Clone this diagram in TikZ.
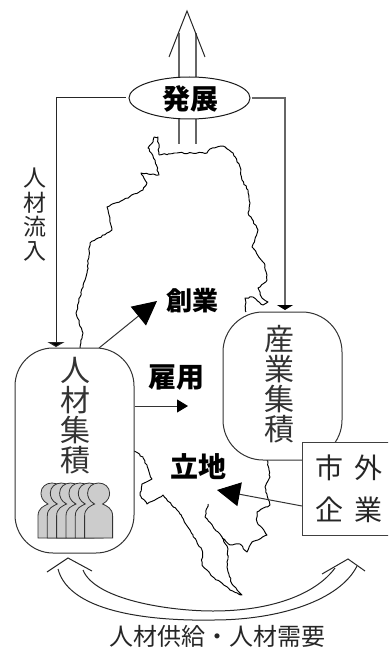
\documentclass[tikz,border=0pt]{standalone}
\usepackage{fontspec}
\setmainfont{Noto Sans CJK JP}
\usetikzlibrary{arrows.meta,decorations.pathmorphing,shapes.geometric}
\newcommand{\fs}[2]{\fontsize{#1}{#2}\selectfont}
\tikzset{
  lbl/.style={inner sep=0pt,align=center,text=black!85},
  bold/.style={inner sep=0pt,font=\bfseries\fs{28}{28},text=black},
  stack/.style={inner sep=0pt,align=center,font=\fs{30}{30},text=black!80},
  mapline/.style={draw=black,line width=.95pt,line join=round,decorate,decoration={random steps,segment length=2.5pt,amplitude=.7pt}},
  capsule/.style={draw=black!80,fill=white,line width=1pt,rounded corners=38pt,minimum width=119pt,inner sep=0pt},
  grayline/.style={draw=black!60,line width=1.1pt},
  darkline/.style={draw=black!85,line width=1pt},
  pointer/.style={draw=black!80,line width=1pt},
  person/.style={draw=black!80,fill=black!20,line width=.8pt},
}
\begin{document}
\begin{tikzpicture}[x=1pt,y=-1pt]
\useasboundingbox (0,0) rectangle (388,647);
\clip (0,0) rectangle (388,647);
% map
\path[mapline] (159,155) -- (177,153) -- (192,153) -- (207,153) -- (210,149) -- (223,146) -- (233,153) -- (240,167) -- (242,180) -- (248,190) -- (250,203) -- (248,213) -- (258,230) -- (252,247) -- (265,265) -- (267,280) -- (258,288) -- (262,298) -- (268,302) -- (263,305) -- (253,297) -- (245,298) -- (246,312);
\path[mapline] (267,460) -- (270,477) -- (265,487) -- (270,505) -- (257,512) -- (257,522) -- (267,535) -- (252,542) -- (247,552) -- (240,544) -- (230,545) -- (222,537) -- (228,549) -- (227,567) -- (232,584) -- (242,595) -- (230,590) -- (213,577) -- (202,565) -- (202,550) -- (190,530) -- (180,514) -- (163,495) -- (147,504) -- (140,495) -- (142,484) -- (152,479) -- (143,457) -- (134,451);
\path[mapline] (208,504) -- (205,517) -- (222,537);
\path[mapline] (80,348) -- (83,333) -- (76,313) -- (80,297) -- (87,273) -- (90,243) -- (112,230) -- (108,210) -- (107,207) -- (123,200) -- (143,190) -- (147,183) -- (141,173) -- (159,175) -- (155,160) -- (148,148) -- (153,142) -- (154,137) -- (158,137) -- (159,155);
% big development arrow
\draw[grayline] (179,33) -- (179,144);
\draw[grayline] (196,33) -- (196,144);
\draw[draw=black!85,line width=1pt,line join=miter] (169,57) -- (187,11) -- (205,57);
% nodes
\node[ellipse,draw=black!90,fill=white,line width=1pt,minimum width=121pt,minimum height=42pt,inner sep=0pt] (hatten) at (189.5,98) {};
\node[bold] (hattenlabel) at (190,99) {発展};
\node[capsule,minimum height=205pt] (jinzai) at (74.5,450.5) {};
\node[capsule,minimum height=148pt,rounded corners=40pt] (sangyo) at (282.5,386) {};
\node[draw=black!75,fill=white,line width=1pt,minimum width=100pt,minimum height=93pt,inner sep=0pt] (shigai) at (352,488.5) {};
% labels
\node[lbl,font=\fs{23}{24.3}] (ryunyu) at (35,215) {人\\材\\流\\入};
\node[stack] (jinzailabel) at (75,416) {人\\材\\集\\積};
\node[stack] (sangyolabel) at (279,384) {産\\業\\集\\積};
\node[lbl,font=\fs{28}{42}] (shigailabel) at (349,489) {市\hspace{11pt}外\\企\hspace{11pt}業};
\node[bold,font=\bfseries\fs{26}{26}] (sogyo) at (192,301) {創業};
\node[bold] (koyo) at (176,378) {雇用};
\node[bold] (ritchi) at (198,467) {立地};
\node[lbl,font=\fs{24}{24}] (caption) at (217,636) {人材供給・人材需要};
% people
\foreach \dx in {0,9.3,18.6,28,37.3,46.6}{
  \path[person,shift={(\dx,0)}] (38,538) -- (38,516) .. controls (38,508) and (44,506) .. (48,504)
    .. controls (42,501) and (41,496) .. (41,493) .. controls (41,487) and (46,483) .. (52,483)
    .. controls (58,483) and (63,487) .. (63,493) .. controls (63,496) and (62,501) .. (56,504)
    .. controls (60,506) and (66,508) .. (66,516) -- (66,538) -- cycle;
}
% connectors
\coordinate (lefttop) at (56,347);
\coordinate (righttop) at (285,310);
\draw[darkline,shorten <=3pt,-{Triangle[length=5pt,width=17pt,fill=black]}] (hatten.west) -| (lefttop);
\draw[grayline,shorten <=1pt,-{Triangle[length=5pt,width=16pt,fill=black,color=black]}] (hatten.east) -| (righttop);
\coordinate (sogyotip) at (157,301);
\coordinate (sogyostart) at (99,348);
\draw[pointer,-{Triangle[length=24pt,width=24pt,color=black]}] (sogyostart) -- (sogyotip);
\coordinate (koyotip) at (188,406);
\draw[pointer,-{Triangle[length=11pt,width=13pt,color=black]}] (jinzai.east |- koyotip) -- (koyotip);
\coordinate (ritchitip) at (217,490);
\coordinate (ritchistart) at (302,506);
\draw[pointer,-{Triangle[length=23pt,width=24pt,color=black]}] (ritchistart) -- (ritchitip);
% bottom double curved arrow
\draw[darkline] (58,569) .. controls (70,615) and (160,621) .. (213,620) .. controls (280,620) and (340,600) .. (357,566);
\draw[darkline] (83,570) .. controls (95,600) and (170,611) .. (213,611) .. controls (270,611) and (315,595) .. (335,568);
\draw[darkline,line join=miter] (47,572) -- (68,558) -- (92,571);
\draw[darkline,line join=miter] (322,574) -- (348,559) -- (365,571);
\end{tikzpicture}
\end{document}
